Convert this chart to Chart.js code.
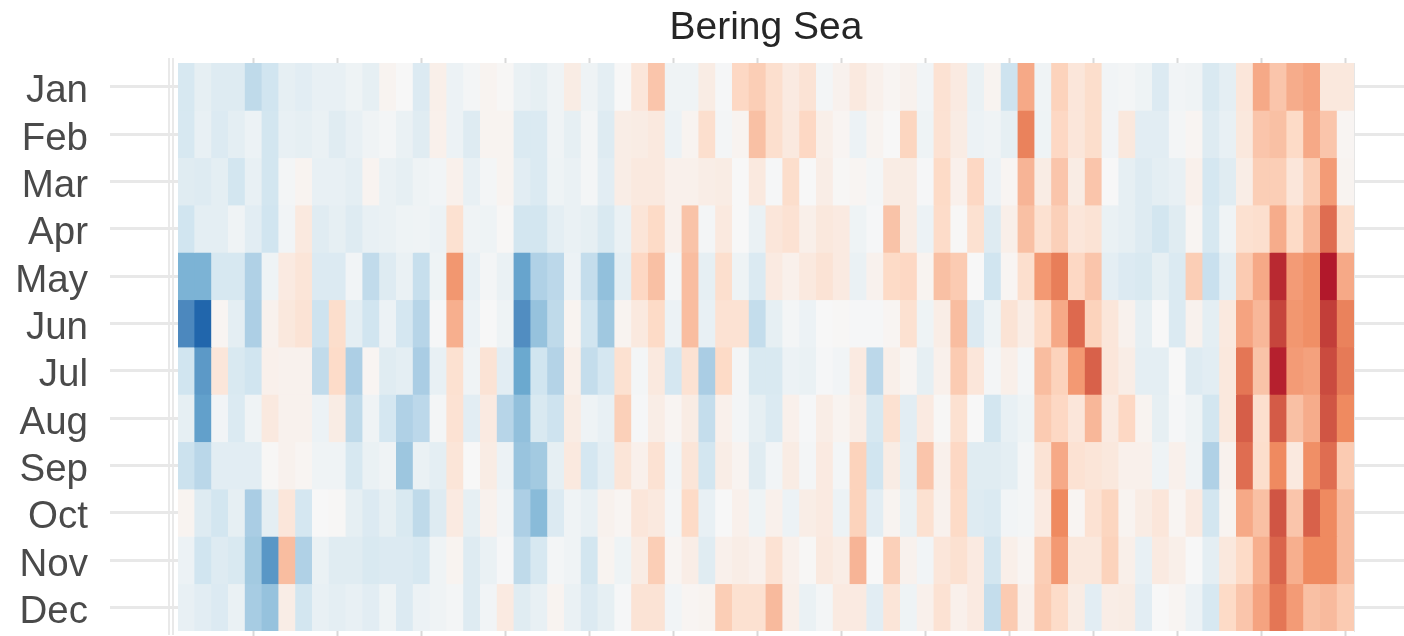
<!DOCTYPE html>
<html>
<head>
<meta charset="utf-8">
<style>
html,body{margin:0;padding:0;background:#fff;overflow:hidden}
#wrap{width:1404px;height:636px}
#c{filter:blur(0.5px)}
</style>
<script src="https://cdn.jsdelivr.net/npm/chart.js@4"></script>
</head>
<body>
<div id="wrap"><canvas id="c" width="1404" height="636"></canvas></div>
<script>
const months = ["Jan","Feb","Mar","Apr","May","Jun","Jul","Aug","Sep","Oct","Nov","Dec"];
const firstYear = 1951;
const jan = [-17,-9,-13,-13,-27,-20,-9,-11,-8,-8,-5,-9,3,0,-14,6,-6,-2,3,1,-7,-9,-4,8,-5,-10,0,12,28,-4,-4,8,-1,21,25,17,9,14,-2,4,10,5,2,4,-3,15,9,-7,3,-21,38,-4,23,12,18,-3,-2,-5,-14,-3,-4,-16,-10,12,38,28,37,40,11,11];
const feb = [-17,-8,-14,-10,-6,-19,-8,-9,-7,-12,-8,-4,-2,-7,-12,5,-6,-13,3,3,-15,-15,-4,-9,-2,-13,7,8,10,-6,3,17,-2,3,30,17,10,21,6,2,-6,3,0,22,-5,15,8,-6,-4,-9,52,-5,21,12,18,-3,11,-11,-11,-2,2,-13,-8,11,28,30,20,38,28,2];
const mar = [-12,-13,-10,-19,-8,-19,-2,3,-8,-8,-10,3,-7,-9,-5,-3,5,-8,-2,3,-11,-15,-5,-7,-2,-11,7,10,10,5,5,7,8,0,10,-1,18,0,7,1,2,-2,8,8,-1,20,5,21,-6,2,34,8,28,8,28,0,-9,-13,-10,-8,5,-18,-12,7,25,25,12,25,43,3];
const apr = [-20,-10,-10,-4,-11,-20,-3,10,-12,-9,-13,-8,-7,-5,-4,-6,16,-4,-5,1,-19,-19,-10,-7,-9,-16,-7,13,20,5,29,-2,10,0,-7,12,15,6,11,9,-5,-1,29,8,-6,19,1,16,-13,6,30,16,24,12,14,-7,-9,-13,-19,-12,2,-17,-4,16,17,37,20,33,57,18];
const may = [-46,-46,-17,-17,-32,-5,9,13,-14,-14,-3,-26,-13,-7,-24,-5,45,-8,-2,-7,-52,-32,-28,-6,-25,-41,-10,21,30,-2,31,-9,17,-5,-15,9,5,10,14,9,-7,4,20,21,3,30,26,0,-20,2,17,44,53,21,28,-10,-14,-16,-9,-15,25,-23,-10,26,38,76,43,48,80,38];
const jun = [-64,-80,2,-10,-33,4,11,14,-21,18,-10,-20,-6,-18,-30,-1,36,-6,0,-5,-62,-40,-27,3,-20,-37,3,10,20,-6,31,-8,15,15,-25,-9,-2,-6,0,1,-1,-1,2,16,-5,7,31,-14,-5,14,7,20,38,58,23,12,4,-9,0,-15,4,-10,10,40,33,69,45,48,71,52];
const jul = [-20,-57,12,-16,-20,5,4,4,-26,19,-33,2,-12,-10,-34,-8,16,-4,14,-11,-50,-20,-31,6,-25,-18,16,-2,10,-18,15,-34,20,-2,-16,-16,-6,-7,-1,-3,9,-28,6,2,-9,5,26,12,-2,6,-2,31,23,44,60,12,7,-10,-10,0,-13,-11,11,55,29,78,43,41,67,54];
const aug = [-9,-54,-3,-15,-4,10,4,4,-6,8,-27,-4,-18,-32,-28,-2,15,-11,9,-30,-41,-16,-21,8,-5,-8,24,-1,7,2,8,-25,5,-2,-9,-15,5,-1,7,3,7,-17,16,-11,9,1,16,0,-19,-8,-5,26,21,12,33,9,21,3,-9,-1,-5,-19,11,61,17,62,30,37,64,50];
const sep = [-22,-29,-11,-11,-11,1,4,2,-4,-4,-17,-7,-4,-38,-7,-10,13,0,8,-6,-39,-36,-9,10,-18,-10,13,5,15,-3,13,-19,7,3,-12,-3,8,-2,9,-2,23,-20,8,-10,28,5,21,-12,-12,-10,-2,14,38,15,13,11,5,5,-5,5,-4,-32,4,57,18,50,10,48,57,26];
const oct = [3,-13,-19,-9,-34,-10,12,-18,0,1,-9,-14,-9,-16,-27,-13,9,-9,4,-3,-33,-43,-14,-4,-8,4,2,12,10,-2,20,-8,0,5,-5,5,-6,7,9,-6,23,-11,3,-7,16,4,20,-13,-15,-3,-2,9,50,2,15,22,3,8,12,2,9,-19,3,38,30,64,28,60,50,32];
const nov = [-6,-20,-13,-16,-36,-58,31,-32,-7,-12,-12,-16,-14,-14,-17,-4,3,-13,-7,-1,-27,-17,-2,-4,-19,3,-5,8,25,2,7,-12,5,7,5,15,5,1,10,7,34,0,24,4,-3,12,16,9,-19,6,2,25,44,11,11,23,6,-8,9,6,0,-10,11,20,36,59,36,50,50,32];
const dec = [-8,-11,-14,-7,-35,-40,7,-19,-8,-10,-8,-11,-5,-14,-6,-4,-2,-13,-3,9,-12,-8,3,-7,-14,-9,-1,14,14,-3,2,3,25,16,16,32,6,-7,-2,9,9,-11,13,-5,5,15,5,9,-25,26,5,26,19,8,-11,7,8,-11,0,2,-6,-17,20,28,40,55,43,30,32,26];
const rows = [jan,feb,mar,apr,may,jun,jul,aug,sep,oct,nov,dec];

// colour ramp, one stop every 10 units from -80 to +80
const stops = [[33,102,172],[63,120,181],[85,146,196],[107,169,207],[150,194,221],[183,213,232],[209,229,240],[228,238,243],[247,247,247],[250,233,223],[253,219,199],[249,192,164],[245,163,128],[239,138,96],[216,97,74],[196,66,58],[178,24,43]];
function colorOf(v){
  const t = Math.max(0, Math.min(15.999, (v + 80) / 10));
  const i = Math.floor(t), f = t - i;
  const a = stops[i], b = stops[i + 1];
  return `rgb(${a.map((c, k) => Math.round(c + (b[k] - c) * f)).join(",")})`;
}

const yearTicks = [];
for (let y = firstYear + 4; y <= firstYear + 69; y += 5) yearTicks.push(y);
const rowTicks = months.map((m, i) => i + 0.5);
const setY = s => { s.ticks = rowTicks.map(value => ({value})); };
const setX = s => { s.ticks = yearTicks.map(value => ({value})); };

const datasets = rows.map((vals, i) => ({
  label: months[i],
  data: vals.map((v, k) => ({x: firstYear + k, y: [i, i + 1], v})),
  backgroundColor: c => colorOf(c.raw.v),
  borderWidth: 0,
  inflateAmount: 0.4,
  barPercentage: 1,
  categoryPercentage: 1,
  grouped: false,
  xAxisID: "x",
  yAxisID: "y"
}));

const leftRule = {
  id: "leftRule",
  beforeDraw(chart){
    const {ctx, chartArea: a} = chart;
    ctx.save();
    ctx.strokeStyle = "#e9e9e9";
    ctx.lineWidth = 2;
    for (const off of [9, 5]) {
      ctx.beginPath();
      ctx.moveTo(a.left - off, a.top - 5);
      ctx.lineTo(a.left - off, a.bottom + 4);
      ctx.stroke();
    }
    ctx.restore();
  }
};

const xBase = {
  type: "linear", min: firstYear - 0.5, max: firstYear + 69.5, offset: false,
  afterBuildTicks: setX,
  ticks: {display: false},
  border: {display: false},
  grid: {display: true, drawOnChartArea: false, drawTicks: true, offset: false, tickLength: 5, tickWidth: 2, tickColor: "#d9d9d9"}
};
const yBase = {
  type: "linear", min: 0, max: 12, reverse: true,
  afterBuildTicks: setY,
  grid: {display: true, drawOnChartArea: false, drawTicks: true, tickWidth: 3, tickColor: "#e8e8e8"}
};
const noPad = s => { s.paddingTop = 0; s.paddingBottom = 0; };

new Chart(document.getElementById("c"), {
  type: "bar",
  data: {datasets},
  plugins: [leftRule],
  options: {
    responsive: false,
    animation: false,
    layout: {padding: 0},
    plugins: {
      legend: {display: false},
      tooltip: {enabled: false},
      title: {
        display: true,
        fullSize: false,
        text: "Bering Sea",
        color: "#262626",
        font: {family: "'Liberation Sans', Arial, sans-serif", size: 39, weight: "normal"},
        padding: {top: 5, bottom: 6.2}
      }
    },
    scales: {
      x: {...xBase, position: "bottom", afterFit: s => { s.height = 5; }},
      xTop: {...xBase, position: "top", afterFit: s => { s.height = 5; }},
      y: {
        ...yBase, position: "left",
        afterFit: s => { s.width = 178; noPad(s); },
        border: {display: false},
        grid: {...yBase.grid, tickLength: 68},
        ticks: {
          autoSkip: false,
          padding: 22,
          labelOffset: 5,
          color: "#4a4a4a",
          font: {family: "'Liberation Sans', Arial, sans-serif", size: 38.5},
          callback: v => months[v - 0.5]
        }
      },
      yRight: {
        ...yBase, position: "right",
        afterFit: s => { s.width = 50; noPad(s); },
        border: {display: true, color: "#e6e6e6", width: 1},
        grid: {...yBase.grid, tickLength: 50},
        ticks: {display: false}
      }
    }
  }
});
</script>
</body>
</html>
